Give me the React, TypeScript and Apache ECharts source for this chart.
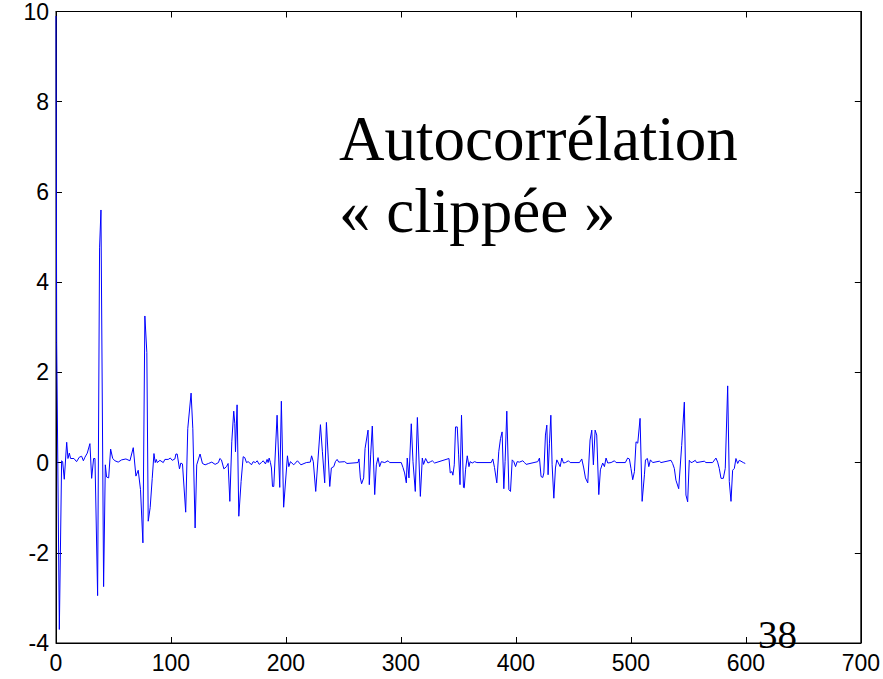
import React, { useEffect, useRef } from "react";
import * as echarts from "echarts";

// Lag (samples) of each vertex of the clipped autocorrelation curve
const lags = [
  0, 0.6, 2.9, 4.9, 5.8, 7.2, 9.3, 10.4, 11.6, 12.7, 15.6, 17.9, 20.3, 22.3, 23.8, 25.2, 27.2, 29.5, 31, 32.7, 33.9,
  36.2, 37.9, 39.1, 41.4, 42.9, 44, 45.8, 47.5, 49.3, 51.3, 54.1, 57.1, 60.8, 64.3, 67.2, 69.5, 71.5, 73.5, 75.6,
  77.3, 79, 80.2, 81.9, 83.7, 85.2, 86.3, 87.2, 88.1, 90.4, 93.3, 94.7, 97.6, 99.4, 101.1, 103.4, 104.3, 105.4,
  107.4, 108.6, 110, 112.8, 114.6, 117.5, 119, 121, 122.4, 125.3, 127.4, 129.7, 132.6, 135.5, 138.4, 141.3,
  142.5, 143.9, 146, 148.3, 149.7, 151.2, 152.9, 154.6, 155.5, 156.1, 157.5, 159, 161, 162.8, 164.2, 165.7,
  167.1, 168.6, 170, 171.5, 173.5, 175, 176.7, 178.7, 180.2, 182.2, 183.6, 184.5, 185.4, 186.5, 187.4, 188.3,
  189.4, 192.3, 194.6, 196, 198, 201.3, 202.5, 203.9, 206.8, 210, 213, 217.7, 221.2, 222.3, 223.8, 225.9, 230,
  231.7, 233.7, 235.2, 238.1, 239.5, 241.6, 243, 244.5, 245.9, 251.1, 253.1, 262.7, 263.5, 264.7, 265.8, 267.6,
  268.8, 271.4, 272.5, 273.7, 275.1, 277.2, 278.6, 280.1, 281.5, 283, 285.9, 288.8, 290.2, 300.3, 301.8, 303.2,
  304.7, 305.5, 307, 309, 310.5, 312.5, 314.3, 316.9, 318.6, 319.7, 321.5, 323.5, 325.8, 327.3, 329.3, 341.8,
  342.9, 344.4, 345.2, 346.4, 347.5, 349, 350.2, 351.4, 352.7, 354.4, 355.1, 356.2, 357.7, 359.2, 360.2, 362,
  364.1, 366.1, 378.5, 379.9, 381.4, 383.4, 385.1, 386.6, 388, 389.5, 390.6, 392.1, 393.9, 395.3, 396.8, 398.2,
  399.7, 401.1, 403.1, 406, 407.5, 408.9, 419, 420.5, 421.9, 423.4, 424.3, 425.7, 426.9, 428, 429.2, 430.4,
  431.5, 433, 434.4, 435.6, 437, 438.5, 439.9, 441.4, 443.1, 445.7, 447.2, 455.3, 457.3, 459, 460.5, 462.5,
  464.5, 466, 467.4, 468.9, 470.3, 472.1, 473.5, 475.5, 477, 478.4, 479.9, 482.8, 485.7, 487.1, 495.2, 497.2,
  498.7, 500.1, 501.6, 503.1, 504.5, 506, 508, 509.8, 511.8, 512.7, 514.4, 515.6, 517, 519, 524.8, 526.2, 534.9,
  536.3, 537.8, 539.2, 541.6, 544.2, 546.5, 547.9, 549.4, 550.8, 552.3, 553.7, 556, 557.2, 563.9, 565.3, 571.1,
  574, 575.5, 576.9, 578.4, 580.4, 582.1, 584.2, 585.6, 587.1, 588.5, 590, 591.4, 592.9, 594.3, 595.8, 597.8,
  599.5,
];

// Autocorrelation value at each lag above
const acf = [
  9.9, 2.66, -3.7, 0.04, 0.02, -0.37, 0.45, 0.09, 0.21, 0.09, 0.09, 0.02, 0.12, 0.14, 0.04, 0.12, 0.21, 0.42, -0.35, 0.09, 0.09,
  -2.95, 4.76, 5.6, -2.75, -0.05, -0.32, -0.34, 0.3, 0.09, 0.04, 0.01, 0.06, 0.08, 0.04, 0.33, -0.3, -0.17, -0.6, -1.78,
  3.25, 2.44, -1.3, -1.0, -0.35, 0.2, 0.0, 0.07, 0.0, 0.05, 0.0, 0.07, 0.07, 0.1, 0.05, 0.08, 0.19, 0.19,
  -0.14, -0.01, -0.03, -1.1, 0.75, 1.54, 0.75, -1.45, -0.05, 0.19, -0.02, -0.05, -0.02, 0.01, -0.04, 0,
  0.09, 0.06, -0.14, -0.09, -0.02, -0.86, 0.46, 1.14, 0.87, 0.24, 1.28, -1.19, -0.42, 0.13, 0.11, 0,
  0.02, -0.01, -0.05, 0.02, 0, 0.04, -0.04, 0, 0.04, -0.03, 0.07, 0, 0.1, 0, -0.12, -0.53,
  -0.53, 1.05, -0.55, 1.36, -0.99, 0.15, -0.09, 0.02, -0.05, 0.04, -0.05, 0, 0.01, 0.15, 0.02, -0.64, 0.84,
  0.24, -0.45, 0.89, -0.53, -0.12, -0.09, 0.02, 0.07, 0.01, 0.02, -0.02, 0, 0.08, -0.34, -0.47, -0.34,
  0.31, 0.72, -0.49, 0.17, 0.81, -0.71, -0.05, 0.11, -0.09, 0.02, 0, 0.04, 0, 0, -0.11, -0.23,
  -0.45, 0.1, -0.34, 0.86, 0.02, -0.64, 1.0, -0.75, 0.1, -0.04, 0.09, -0.01, 0.02, 0.04, -0.01, 0.09,
  -0.23, -0.2, -0.28, -0.05, 0.79, 0.79, 0.17, -0.49, 1.05, -0.55, -0.56, -0.16, 0.15, -0.09, 0.02, -0.01,
  0.02, 0, 0, 0.08, -0.11, -0.45, 0.24, 0.53, 0.68, -0.58, 0.02, 1.14, -0.6, -0.64, 0.06, 0.02,
  -0.09, 0.02, 0.01, 0.04, 0, -0.04, 0.02, 0.1, -0.31, -0.33, -0.23, 0.61, 0.83, -0.27, 0.43, 1.05,
  -0.05, -0.79, -0.12, 0.06, -0.01, -0.09, 0.1, -0.01, 0, 0.04, 0, 0, 0.08, -0.12, -0.34, -0.45,
  0.5, 0.72, -0.05, 0.72, 0.61, -0.71, -0.16, -0.01, -0.09, 0.1, -0.01, 0, 0.04, 0, 0, 0.1,
  0.08, -0.13, -0.38, -0.2, 0.46, 0.43, 0.98, -0.86, -0.27, 0.06, 0.09, -0.09, 0.06, 0, 0.03, 0, 0.05,
  -0.02, -0.13, -0.39, -0.58, 0.38, 1.34, -0.72, -0.87, 0.05, 0, 0.01, 0.05, 0, 0.03, 0, 0,
  0.1, 0.01, -0.13, -0.35, -0.35, -0.13, 1.7, -0.42, -0.86, -0.17, -0.13, 0.09, -0.02, 0.05, 0.03, 0,
  -0.02,
];

// Axis ranges and tick steps
const xRange = [0, 700];
const xStep = 100;
const yRange = [-4, 10];
const yStep = 2;

// Annotation texts
const titleLines = ["Autocorrélation", "« clippée »"];
const pageNumber = "38";

const sansFont = "'Liberation Sans', Arial, Helvetica, sans-serif";
const serifFont = "'Liberation Serif', 'Times New Roman', Times, serif";

export default function App() {
  const ref = useRef<HTMLDivElement>(null);

  useEffect(() => {
    if (!ref.current) return;
    const chart = echarts.init(ref.current, undefined, { renderer: "svg" });

    const points = lags.map((l, i) => [l, acf[i]]);

    const tickStyle = { inside: true, length: 6, lineStyle: { color: "#000", width: 1 } };
    const lineStyle = { show: true, onZero: false, lineStyle: { color: "#000", width: 1 } };
    const labelStyle = { color: "#000", fontSize: 23, fontFamily: sansFont };

    chart.setOption({
      animation: false,
      backgroundColor: "#fff",
      grid: {
        left: 56,
        right: 21,
        top: 8,
        bottom: 36,
        show: true,
        borderColor: "#000",
        borderWidth: 1,
        backgroundColor: "transparent",
      },
      xAxis: [
        {
          type: "value",
          min: xRange[0],
          max: xRange[1],
          interval: xStep,
          axisLine: lineStyle,
          axisTick: tickStyle,
          axisLabel: { ...labelStyle, margin: 8 },
          splitLine: { show: false },
        },
        {
          type: "value",
          position: "top",
          min: xRange[0],
          max: xRange[1],
          interval: xStep,
          axisLine: lineStyle,
          axisTick: tickStyle,
          axisLabel: { show: false },
          splitLine: { show: false },
        },
      ],
      yAxis: [
        {
          type: "value",
          min: yRange[0],
          max: yRange[1],
          interval: yStep,
          axisLine: lineStyle,
          axisTick: tickStyle,
          axisLabel: { ...labelStyle, margin: 7 },
          splitLine: { show: false },
        },
        {
          type: "value",
          position: "right",
          min: yRange[0],
          max: yRange[1],
          interval: yStep,
          axisLine: lineStyle,
          axisTick: tickStyle,
          axisLabel: { show: false },
          splitLine: { show: false },
        },
      ],
      series: [
        {
          type: "line",
          xAxisIndex: 0,
          yAxisIndex: 0,
          data: points,
          showSymbol: false,
          symbol: "none",
          lineStyle: { color: "#0000ff", width: 1 },
          clip: true,
        },
      ],
      graphic: [
        {
          type: "text",
          x: 339,
          y: 139,
          style: {
            text: titleLines[0],
            font: `63px ${serifFont}`,
            fill: "#000",
            verticalAlign: "middle",
          },
        },
        {
          type: "text",
          x: 339,
          y: 211,
          style: {
            text: titleLines[1],
            font: `63px ${serifFont}`,
            fill: "#000",
            verticalAlign: "middle",
          },
        },
        {
          type: "text",
          x: 758,
          y: 634,
          style: {
            text: pageNumber,
            font: `39px ${serifFont}`,
            fill: "#000",
            verticalAlign: "middle",
          },
        },
      ],
    });

    return () => chart.dispose();
  }, []);

  return (
    <div
      ref={ref}
      style={{ position: "fixed", left: 0, top: 0, width: 883, height: 679, background: "#fff" }}
    />
  );
}
